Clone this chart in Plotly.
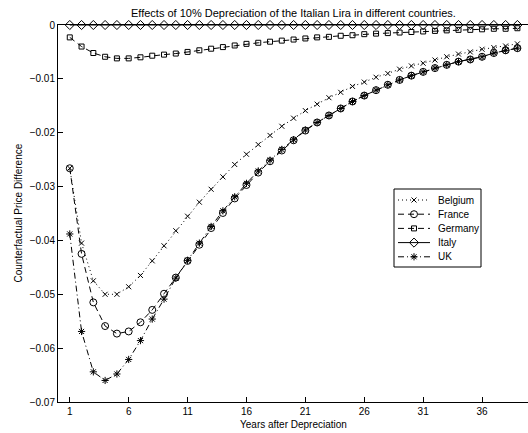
import plotly.graph_objects as go

years = list(range(1, 40))

belgium = [-0.0266, -0.0405, -0.0475, -0.0500, -0.0500, -0.0486, -0.0465, -0.0438, -0.0410, -0.0382,
           -0.0355, -0.0329, -0.0305, -0.0282, -0.0259, -0.0240, -0.0222, -0.0205, -0.0188, -0.0173,
           -0.0159, -0.0147, -0.0135, -0.0125, -0.0114, -0.0106, -0.0097, -0.0090, -0.0082, -0.0076,
           -0.0071, -0.0065, -0.0059, -0.0054, -0.0050, -0.0045, -0.0042, -0.0039, -0.0035]
france = [-0.0266, -0.0425, -0.0515, -0.0559, -0.0573, -0.0569, -0.0552, -0.0529, -0.0499, -0.0469,
          -0.0438, -0.0408, -0.0377, -0.0349, -0.0322, -0.0297, -0.0274, -0.0253, -0.0233, -0.0214,
          -0.0196, -0.0181, -0.0168, -0.0155, -0.0142, -0.0131, -0.0121, -0.0111, -0.0102, -0.0094,
          -0.0087, -0.0080, -0.0074, -0.0068, -0.0064, -0.0059, -0.0052, -0.0047, -0.0043]
germany = [-0.0023, -0.0040, -0.0052, -0.0059, -0.0062, -0.0062, -0.0060, -0.0057, -0.0055, -0.0053,
           -0.0050, -0.0047, -0.0044, -0.0041, -0.0038, -0.0035, -0.0033, -0.0031, -0.0029, -0.0027,
           -0.0025, -0.0023, -0.0022, -0.0020, -0.0019, -0.0017, -0.0016, -0.0015, -0.0014, -0.0013,
           -0.0012, -0.0011, -0.0010, -0.0009, -0.0009, -0.0008, -0.0007, -0.0007, -0.0006]
italy = [0.0] * 39
uk = [-0.0388, -0.0569, -0.0644, -0.0660, -0.0648, -0.0621, -0.0586, -0.0546, -0.0509, -0.0470,
      -0.0437, -0.0405, -0.0374, -0.0345, -0.0319, -0.0294, -0.0271, -0.0251, -0.0231, -0.0213,
      -0.0195, -0.0181, -0.0168, -0.0155, -0.0142, -0.0131, -0.0121, -0.0111, -0.0102, -0.0094,
      -0.0087, -0.0080, -0.0074, -0.0068, -0.0064, -0.0059, -0.0052, -0.0047, -0.0043]

series_names = ["Belgium", "France", "Germany", "Italy", "UK"]
series_values = [belgium, france, germany, italy, uk]

x_tick_vals = [1, 6, 11, 16, 21, 26, 31, 36]
y_tick_vals = [0, -0.01, -0.02, -0.03, -0.04, -0.05, -0.06, -0.07]
y_tick_text = ["0", "\u22120.01", "\u22120.02", "\u22120.03", "\u22120.04", "\u22120.05", "\u22120.06", "\u22120.07"]

styles = {
    "Belgium": dict(dash="1px,3px", symbol="x-thin-open", size=5),
    "France": dict(dash="6px,4px", symbol="circle-open", size=7),
    "Germany": dict(dash="6px,4px", symbol="square-open", size=5),
    "Italy": dict(dash="solid", symbol="diamond-open", size=7),
    "UK": dict(dash="6px,3px,1px,3px", symbol="asterisk-open", size=6),
}

FONT = "Liberation Sans, Arial, sans-serif"
W, H = 528, 433
ML, MR, MT, MB = 58, 0, 25, 31

fig = go.Figure()
for name, vals in zip(series_names, series_values):
    st = styles[name]
    fig.add_trace(go.Scatter(
        x=years, y=vals, mode="lines+markers", name=name, showlegend=False,
        line=dict(color="black", width=1, dash=st["dash"]),
        marker=dict(symbol=st["symbol"], size=st["size"], color="black",
                    line=dict(color="black", width=1)),
        cliponaxis=False,
    ))

# custom legend drawn on a pixel-coordinate overlay axis
leg_left, leg_top, leg_right, leg_bottom = 394, 189, 481, 267
row0, row_step = 200, 14.2
for i, name in enumerate(series_names):
    st = styles[name]
    yy = row0 + i * row_step
    fig.add_trace(go.Scatter(
        x=[leg_left + 4, leg_left + 36], y=[yy, yy], mode="lines", xaxis="x2", yaxis="y2",
        showlegend=False, hoverinfo="skip",
        line=dict(color="black", width=1, dash=st["dash"]), cliponaxis=False))
    fig.add_trace(go.Scatter(
        x=[leg_left + 20], y=[yy], mode="markers", xaxis="x2", yaxis="y2",
        showlegend=False, hoverinfo="skip",
        marker=dict(symbol=st["symbol"], size=st["size"], color="black",
                    line=dict(color="black", width=1)), cliponaxis=False))
    fig.add_annotation(x=leg_left + 42, y=yy, xref="x2", yref="y2", text=name,
                       showarrow=False, xanchor="left", yanchor="middle",
                       font=dict(family=FONT, size=10, color="black"))

fig.add_shape(type="rect", xref="x2", yref="y2", x0=leg_left, x1=leg_right,
              y0=leg_top, y1=leg_bottom, line=dict(color="black", width=1),
              fillcolor="white", layer="below")

fig.update_layout(
    width=W, height=H,
    margin=dict(l=ML, r=MR, t=MT, b=MB, pad=0),
    paper_bgcolor="white", plot_bgcolor="white",
    font=dict(family=FONT, size=10, color="black"),
    showlegend=False,
    hovermode=False,
    xaxis=dict(range=[0, 39.9], tickvals=x_tick_vals, ticks="inside", ticklen=5,
               tickcolor="black", showline=True, linecolor="black", linewidth=1,
               mirror=True, showgrid=False, zeroline=False,
               tickfont=dict(family=FONT, size=10)),
    yaxis=dict(range=[-0.07, 0], tickvals=y_tick_vals, ticktext=y_tick_text,
               ticks="inside", ticklen=5, tickcolor="black", showline=True,
               linecolor="black", linewidth=1, showgrid=False, zeroline=False,
               tickfont=dict(family=FONT, size=10)),
    xaxis2=dict(range=[ML, W - MR], overlaying="x", visible=False),
    yaxis2=dict(range=[H - MB, MT], overlaying="y", visible=False),
    annotations=list(fig.layout.annotations) + [
        dict(text="Effects of 10% Depreciation of the Italian Lira in different countries.",
             x=0.5, y=1, xref="paper", yref="paper", yshift=12, showarrow=False,
             xanchor="center", yanchor="middle", font=dict(family=FONT, size=11)),
        dict(text="Years after Depreciation", x=0.5, y=0, xref="paper", yref="paper",
             yshift=-22, showarrow=False, xanchor="center", yanchor="middle",
             font=dict(family=FONT, size=10)),
        dict(text="Counterfactual Price Difference", x=0, y=0.5, xref="paper", yref="paper",
             xshift=-40, showarrow=False, textangle=-90, xanchor="center", yanchor="middle",
             font=dict(family=FONT, size=10)),
    ],
)

fig.write_html("out.html", config={"displayModeBar": False, "staticPlot": True},
               post_script="document.body.style.margin='0';document.body.style.overflow='hidden';")
